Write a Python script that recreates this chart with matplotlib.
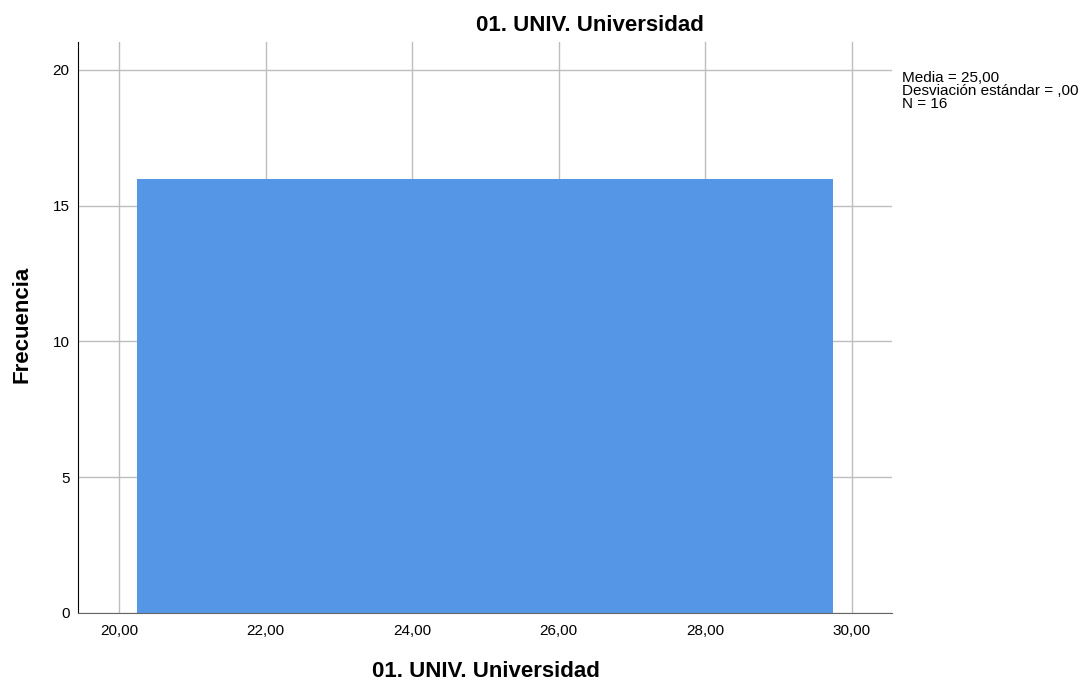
import matplotlib
matplotlib.use("Agg")
import matplotlib.pyplot as plt
import numpy as np

plt.rcParams['font.family'] = ['Liberation Sans', 'DejaVu Sans']

# data: 16 cases, all at 25,00
values = [25.0] * 16
bin_edges = [20.25, 29.75]
x_ticks = [20, 22, 24, 26, 28, 30]
y_ticks = [0, 5, 10, 15, 20]
title = "01. UNIV. Universidad"
stats_text = "Media = 25,00\nDesviación estándar = ,00\nN = 16"

fig = plt.figure(figsize=(10.85, 6.82), dpi=100)
ax = fig.add_axes([0.0719, 0.1012, 0.7502, 0.8372])

ax.hist(values, bins=bin_edges, color="#5596e6", zorder=3)

ax.set_xlim(19.44, 30.55)
ax.set_ylim(0, 21.03)
ax.set_xticks(x_ticks)
ax.set_xticklabels([f"{t:.2f}".replace(".", ",") for t in x_ticks])
ax.set_yticks(y_ticks)
ax.tick_params(length=0, labelsize=11)
ax.tick_params(axis="x", pad=8)
ax.tick_params(axis="y", pad=6)
ax.grid(True, color="#bdbdbd", linewidth=1, zorder=0)
ax.set_axisbelow(True)

for s in ["top", "right"]:
    ax.spines[s].set_visible(False)
ax.spines["left"].set_color("black")
ax.spines["bottom"].set_color("#666666")
ax.spines["left"].set_zorder(4)
ax.spines["bottom"].set_zorder(4)

fig.text(0.5433, (682 - 31) / 682, title, ha="center", va="baseline",
         fontsize=16, fontweight="bold")
fig.text(486 / 1085, 5 / 682, title, ha="center", va="baseline",
         fontsize=16, fontweight="bold")
fig.text(22 / 1085, (682 - 324) / 682, "Frecuencia", ha="center", va="center",
         rotation=90, fontsize=16, fontweight="bold")
fig.text(902 / 1085, (682 - 71) / 682, stats_text, ha="left", va="top",
         fontsize=11, linespacing=0.92)

fig.savefig("out.png", dpi=100)
